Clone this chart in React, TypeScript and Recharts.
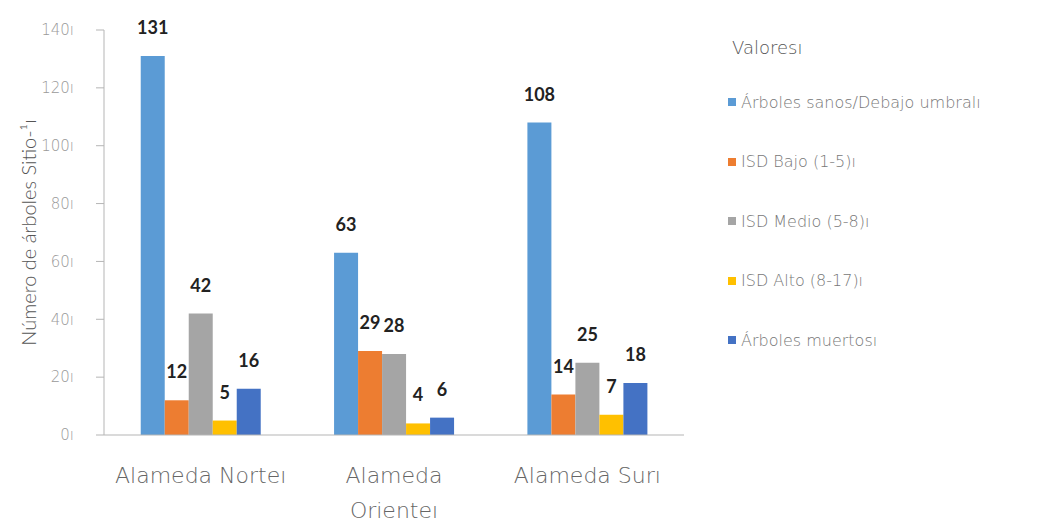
import React from 'react';
import { BarChart, Bar, XAxis, YAxis, LabelList } from 'recharts';

const categories = ['Alameda Norteı', 'Alameda\nOrienteı', 'Alameda Surı'];
const sanos = [131, 63, 108];
const bajo = [12, 29, 14];
const medio = [42, 28, 25];
const alto = [5, 4, 7];
const muertos = [16, 6, 18];
const yTicks = [0, 20, 40, 60, 80, 100, 120, 140];

const series = [
  { key: 'sanos', name: 'Árboles sanos/Debajo umbralı', color: '#5B9BD5' },
  { key: 'bajo', name: 'ISD Bajo (1-5)ı', color: '#ED7D31' },
  { key: 'medio', name: 'ISD Medio (5-8)ı', color: '#A5A5A5' },
  { key: 'alto', name: 'ISD Alto (8-17)ı', color: '#FFC000' },
  { key: 'muertos', name: 'Árboles muertosı', color: '#4472C4' },
];

const data = categories.map((name, i) => ({
  name,
  sanos: sanos[i],
  bajo: bajo[i],
  medio: medio[i],
  alto: alto[i],
  muertos: muertos[i],
}));

const thinFont = '"DejaVu Sans", sans-serif';

const CategoryTick = ({ x, y, payload }: any) => {
  const lines = String(payload.value).split('\n');
  return (
    <text x={x} y={y} textAnchor="middle" fill="#666" fontSize={22} fontFamily={thinFont} fontWeight={200}>
      {lines.map((l, i) => (
        <tspan key={i} x={x} dy={i === 0 ? 40 : 35}>
          {l}
        </tspan>
      ))}
    </text>
  );
};

const YLabel = ({ viewBox }: any) => {
  const cx = viewBox.x + 18;
  const cy = viewBox.y + viewBox.height / 2;
  return (
    <text
      x={cx}
      y={cy}
      transform={`rotate(-90, ${cx}, ${cy})`}
      textAnchor="middle"
      dominantBaseline="central"
      fill="#555"
      fontSize={20}
      fontFamily="Lato, sans-serif"
      fontWeight={300}
    >
      Número de árboles Sitio-¹ı
    </text>
  );
};

export default function App() {
  return (
    <div style={{ position: 'absolute', left: 0, top: 0, width: 1045, height: 525, background: '#fff' }}>
      <BarChart
        width={1045}
        height={525}
        data={data}
        margin={{ top: 30, right: 361, left: 10, bottom: 10 }}
        barCategoryGap="19%"
        barGap={0}
      >
        <XAxis
          dataKey="name"
          tickLine={false}
          axisLine={{ stroke: '#b5b5b5' }}
          height={80}
          interval={0}
          tick={<CategoryTick />}
        />
        <YAxis
          width={94}
          domain={[0, 140]}
          ticks={yTicks}
          tickFormatter={(v) => `${v}ı`}
          axisLine={{ stroke: '#b5b5b5' }}
          tickLine={{ stroke: '#b5b5b5' }}
          tickSize={8}
          tickMargin={22}
          tick={{ fill: '#999', fontSize: 15, fontFamily: thinFont, fontWeight: 200 }}
          label={{ content: <YLabel /> }}
        />
        {series.map((s) => (
          <Bar key={s.key} dataKey={s.key} name={s.name} fill={s.color} isAnimationActive={false}>
            <LabelList
              dataKey={s.key}
              position="top"
              offset={22}
              fill="#222"
              fontSize={18}
              fontWeight={700}
              fontFamily="Lato, sans-serif"
            />
          </Bar>
        ))}
      </BarChart>
      <div style={{ position: 'absolute', left: 728, top: 36, fontFamily: thinFont, fontWeight: 200 }}>
        <div style={{ fontSize: 18, color: '#555', fontWeight: 300, marginLeft: 4, height: 24, lineHeight: '24px' }}>
          Valoresı
        </div>
        {series.map((s, i) => (
          <div
            key={s.key}
            style={{
              position: 'absolute',
              top: 54 + i * 59.5,
              left: 0,
              display: 'flex',
              alignItems: 'center',
              whiteSpace: 'nowrap',
              fontSize: 16,
              color: '#777',
              height: 24,
            }}
          >
            <span style={{ width: 8, height: 8, background: s.color, marginRight: 5, display: 'inline-block' }} />
            {s.name}
          </div>
        ))}
      </div>
    </div>
  );
}
